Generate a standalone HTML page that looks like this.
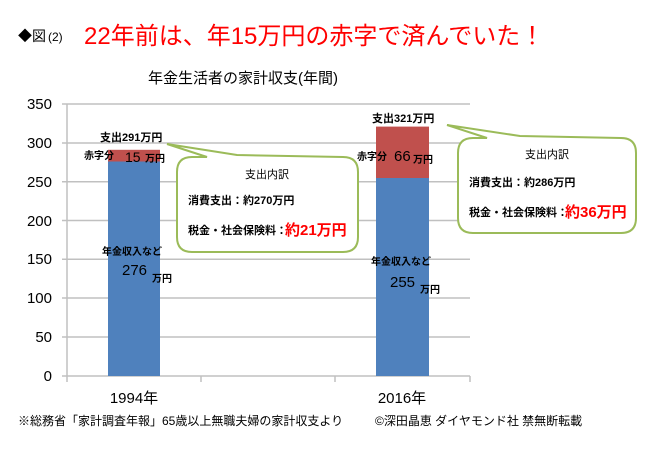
<!DOCTYPE html>
<html><head><meta charset="utf-8"><style>
body{margin:0;background:#fff;}
svg text{font-family:"Liberation Sans","Noto Sans CJK JP",sans-serif;}
</style></head><body>
<svg width="650" height="448" viewBox="0 0 650 448" xmlns="http://www.w3.org/2000/svg">
<rect width="650" height="448" fill="#fff"/>
<text x="18" y="41" font-size="14" fill="#000">◆図</text>
<text x="48" y="41" font-size="12" fill="#000">(2)</text>
<text x="84" y="44" font-size="24" fill="#ff0000">22年前は、年15万円の赤字で済んでいた！</text>
<text x="148" y="83" font-size="15" fill="#000">年金生活者の家計収支(年間)</text>
<g stroke="#c0c0c0" stroke-width="1.5">
<line x1="62" y1="104" x2="470" y2="104"/>
<line x1="62" y1="143" x2="470" y2="143"/>
<line x1="62" y1="181.7" x2="470" y2="181.7"/>
<line x1="62" y1="220.5" x2="470" y2="220.5"/>
<line x1="62" y1="259.3" x2="470" y2="259.3"/>
<line x1="62" y1="298" x2="470" y2="298"/>
<line x1="62" y1="337" x2="470" y2="337"/>
<line x1="62" y1="376" x2="470" y2="376"/>
<line x1="67" y1="104" x2="67" y2="376"/>
<line x1="67" y1="376" x2="67" y2="382"/>
<line x1="201" y1="376" x2="201" y2="382"/>
<line x1="335" y1="376" x2="335" y2="382"/>
<line x1="470" y1="376" x2="470" y2="382"/>
</g>
<g font-size="15" text-anchor="end" fill="#000">
<text x="52" y="109">350</text><text x="52" y="148">300</text><text x="52" y="187">250</text>
<text x="52" y="226">200</text><text x="52" y="264">150</text><text x="52" y="303">100</text>
<text x="52" y="342">50</text><text x="52" y="381">0</text>
</g>
<rect x="108" y="161.5" width="52" height="214.5" fill="#4f81bd"/>
<rect x="108" y="149.8" width="52" height="11.7" fill="#c0504d"/>
<rect x="376" y="178" width="53" height="198" fill="#4f81bd"/>
<rect x="376" y="126.6" width="53" height="51.4" fill="#c0504d"/>
<g fill="#fff" stroke="#9bbb59" stroke-width="2">
<path d="M192 157 L207 157 L167 144 L237 155 L343 157 Q358 157 358 172 L358 237 Q358 252 343 252 L192 252 Q177 252 177 237 L177 172 Q177 157 192 157 Z"/>
<path d="M473 138 L487 138 L447 125 L520 136 L621 138 Q636 138 636 153 L636 218 Q636 233 621 233 L473 233 Q458 233 458 218 L458 153 Q458 138 473 138 Z"/>
</g>
<g fill="#000">
<text x="100" y="141" font-size="11" font-weight="bold">支出291万円</text>
<text x="84" y="159" font-size="10" font-weight="bold">赤字分</text>
<text x="125" y="162" font-size="14">15</text>
<text x="145" y="162" font-size="10" font-weight="bold">万円</text>
<text x="102" y="255" font-size="10" font-weight="bold">年金収入など</text>
<text x="122" y="275" font-size="15">276</text>
<text x="152" y="282" font-size="10" font-weight="bold">万円</text>
<text x="372" y="122" font-size="11" font-weight="bold">支出321万円</text>
<text x="357" y="160" font-size="10" font-weight="bold">赤字分</text>
<text x="394" y="161" font-size="15">66</text>
<text x="413" y="163" font-size="10" font-weight="bold">万円</text>
<text x="371" y="265" font-size="10" font-weight="bold">年金収入など</text>
<text x="390" y="287" font-size="15">255</text>
<text x="420" y="293" font-size="10" font-weight="bold">万円</text>
<text x="267" y="178" font-size="11" text-anchor="middle">支出内訳</text>
<text x="188" y="204" font-size="11" font-weight="bold">消費支出：約270万円</text>
<text x="188" y="234" font-size="11" font-weight="bold">税金・社会保険料：</text>
<text x="285" y="235" font-size="15" fill="#ff0000" font-weight="bold">約21万円</text>
<text x="547" y="158" font-size="11" text-anchor="middle">支出内訳</text>
<text x="469" y="186" font-size="11" font-weight="bold">消費支出：約286万円</text>
<text x="469" y="216" font-size="11" font-weight="bold">税金・社会保険料：</text>
<text x="565" y="217" font-size="15" fill="#ff0000" font-weight="bold">約36万円</text>
<text x="134" y="403" font-size="15" text-anchor="middle">1994年</text>
<text x="402" y="403" font-size="15" text-anchor="middle">2016年</text>
<text x="18" y="425" font-size="12">※総務省「家計調査年報」65歳以上無職夫婦の家計収支より</text>
<text x="375" y="425" font-size="12">©深田晶恵 ダイヤモンド社 禁無断転載</text>
</g>
</svg>
</body></html>
